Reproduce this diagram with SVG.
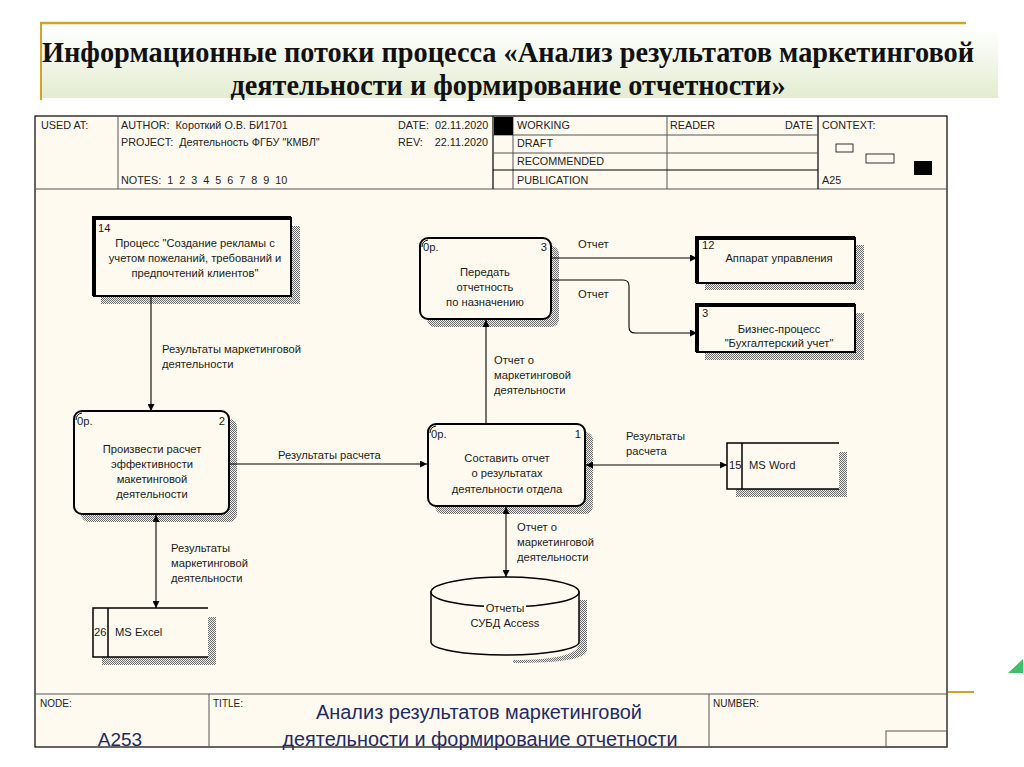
<svg xmlns="http://www.w3.org/2000/svg" width="1024" height="767" viewBox="0 0 1024 767">
<defs>
<linearGradient id="tg" x1="0" y1="0" x2="0" y2="1">
<stop offset="0" stop-color="#ffffff"/>
<stop offset="1" stop-color="#e3ecd0"/>
</linearGradient>
<pattern id="hatch" width="2" height="2" patternUnits="userSpaceOnUse">
<rect width="2" height="2" fill="#f4f1ea"/>
<rect width="1" height="1" fill="#6a6a6a"/>
<rect x="1" y="1" width="1" height="1" fill="#6a6a6a"/>
</pattern>
<marker id="ah" viewBox="0 0 10 10" refX="10" refY="5" markerWidth="9" markerHeight="7" markerUnits="userSpaceOnUse" orient="auto-start-reverse">
<path d="M0,0 L10,5 L0,10 z" fill="#000"/>
</marker>
<style>
.t{font-family:"Liberation Sans",Arial,sans-serif;font-size:11.2px;fill:#1a1a1a}
.h{font-family:"Liberation Sans",Arial,sans-serif;font-size:10.8px;fill:#222;white-space:pre}
.c{text-anchor:middle}
.ln{fill:none;stroke:#555;stroke-width:1}
.act{fill:#fefaf0;stroke:#000;stroke-width:2}
.ext{fill:#fefaf0;stroke:#000;stroke-width:2}
.thk{stroke:#000;stroke-width:4;fill:none}
.sh{fill:url(#hatch)}
.cn{fill:none;stroke:#000;stroke-width:1.1}
.ds{fill:#fefaf0;stroke:none}
.dl{stroke:#000;stroke-width:1.5;fill:none}
.ft{font-family:"Liberation Sans",Arial,sans-serif;fill:#1e2a66}
</style>
</defs>
<rect width="1024" height="767" fill="#ffffff"/>
<g id="slide-title">
<rect x="41" y="28" width="957" height="70" fill="url(#tg)"/>
<line x1="40" y1="23" x2="966" y2="23" stroke="#d4a22a" stroke-width="2.5"/>
<line x1="41" y1="22" x2="41" y2="100" stroke="#d4a22a" stroke-width="2"/>
<text x="508" y="62" text-anchor="middle" font-family="Liberation Serif, serif" font-weight="bold" font-size="29" textLength="932" lengthAdjust="spacingAndGlyphs" fill="#111">Информационные потоки процесса «Анализ результатов маркетинговой</text>
<text x="508" y="95" text-anchor="middle" font-family="Liberation Serif, serif" font-weight="bold" font-size="29" textLength="555" lengthAdjust="spacingAndGlyphs" fill="#111">деятельности и формирование отчетности»</text>
</g>
<g id="frame">
<rect x="35" y="116" width="912" height="631" fill="#fefaf0" stroke="#000" stroke-width="1.2"/>
<line x1="35" y1="189" x2="947" y2="189" stroke="#555"/>
<line x1="118" y1="116" x2="118" y2="189" class="ln"/>
<line x1="493" y1="116" x2="493" y2="189" stroke="#000" stroke-width="1.2"/>
<line x1="513" y1="116" x2="513" y2="189" class="ln"/>
<line x1="667" y1="116" x2="667" y2="189" class="ln"/>
<line x1="818" y1="116" x2="818" y2="189" stroke="#000" stroke-width="1.2"/>
<line x1="493" y1="135" x2="818" y2="135" class="ln"/>
<line x1="493" y1="153" x2="818" y2="153" class="ln"/>
<line x1="493" y1="170" x2="818" y2="170" stroke="#000" stroke-width="1"/>
<rect x="494" y="117" width="19" height="18" fill="#000"/>
<text class="h" x="41" y="129">USED AT:</text>
<text class="h" x="121" y="129">AUTHOR:  Короткий О.В. БИ1701</text>
<text class="h" x="121" y="146">PROJECT:  Деятельность ФГБУ "КМВЛ"</text>
<text class="h" x="121" y="184">NOTES:  1  2  3  4  5  6  7  8  9  10</text>
<text class="h" x="398" y="129">DATE:  02.11.2020</text>
<text class="h" x="398" y="146">REV:    22.11.2020</text>
<text class="h" x="517" y="129">WORKING</text>
<text class="h" x="517" y="147">DRAFT</text>
<text class="h" x="517" y="165">RECOMMENDED</text>
<text class="h" x="517" y="184">PUBLICATION</text>
<text class="h" x="670" y="129">READER</text>
<text class="h" x="813" y="129" text-anchor="end">DATE</text>
<text class="h" x="822" y="129">CONTEXT:</text>
<text class="h" x="822" y="184">A25</text>
<rect x="836" y="144" width="17" height="8" fill="#fefaf0" stroke="#000" stroke-width="0.8"/>
<rect x="866" y="154" width="28" height="9" fill="#fefaf0" stroke="#000" stroke-width="0.8"/>
<rect x="914" y="161" width="18" height="14" fill="#000"/>
<line x1="35" y1="694" x2="947" y2="694" stroke="#555"/>
<line x1="209" y1="694" x2="209" y2="747" class="ln"/>
<line x1="709" y1="694" x2="709" y2="747" class="ln"/>
<rect x="886" y="731" width="61" height="16" fill="none" stroke="#555"/>
<text x="40" y="707" font-family="Liberation Sans, Arial, sans-serif" font-size="10" fill="#222">NODE:</text>
<text x="213" y="707" font-family="Liberation Sans, Arial, sans-serif" font-size="10" fill="#222">TITLE:</text>
<text x="713" y="707" font-family="Liberation Sans, Arial, sans-serif" font-size="10" fill="#222">NUMBER:</text>
<text class="ft" x="120" y="746" text-anchor="middle" font-size="19">A253</text>
<text class="ft" x="479" y="719" text-anchor="middle" font-size="19.5" textLength="326" lengthAdjust="spacingAndGlyphs">Анализ результатов маркетинговой</text>
<text class="ft" x="480" y="746" text-anchor="middle" font-size="19.5" textLength="395" lengthAdjust="spacingAndGlyphs">деятельности и формирование отчетности</text>
</g>
<g id="deco">
<line x1="948" y1="692" x2="974" y2="692" stroke="#d4a22a" stroke-width="2"/>
<polygon points="1008,673 1023,673 1023,659" fill="#3fbf6a"/>
</g>
<g id="node-14">
<rect class="sh" x="101" y="226" width="199" height="78"/>
<rect class="ext" x="94" y="218" width="197" height="78"/>
<path class="thk" d="M94,296 V218 H291"/>
<text class="t" x="98" y="232">14</text>
<text class="t c" x="195" y="247">Процесс "Создание рекламы с</text>
<text class="t c" x="195" y="262">учетом пожеланий, требований и</text>
<text class="t c" x="195" y="277">предпочтений клиентов"</text>
</g>
<g id="node-2">
<rect class="sh" x="81" y="419" width="156" height="103" rx="8"/>
<rect class="act" x="74" y="411" width="155" height="103" rx="8"/>
<path d="M76,420 Q76,414 82,413" stroke="#000" stroke-width="1" fill="none"/>
<text class="t" x="77" y="425">0р.</text>
<text class="t" x="225" y="425" text-anchor="end">2</text>
<text class="t c" x="152" y="453">Произвести расчет</text>
<text class="t c" x="152" y="468">эффективности</text>
<text class="t c" x="152" y="483">макетинговой</text>
<text class="t c" x="152" y="498">деятельности</text>
</g>
<g id="node-1">
<rect class="sh" x="435" y="432" width="158" height="82" rx="8"/>
<rect class="act" x="428" y="424" width="157" height="82" rx="8"/>
<path d="M430,433 Q430,427 436,426" stroke="#000" stroke-width="1" fill="none"/>
<text class="t" x="431" y="438">0р.</text>
<text class="t" x="581" y="438" text-anchor="end">1</text>
<text class="t c" x="507" y="462">Составить отчет</text>
<text class="t c" x="507" y="477">о результатах</text>
<text class="t c" x="507" y="493">деятельности отдела</text>
</g>
<g id="node-3">
<rect class="sh" x="427" y="246" width="132" height="81" rx="8"/>
<rect class="act" x="420" y="238" width="131" height="81" rx="8"/>
<path d="M422,247 Q422,241 428,240" stroke="#000" stroke-width="1" fill="none"/>
<text class="t" x="423" y="251">0р.</text>
<text class="t" x="547" y="251" text-anchor="end">3</text>
<text class="t c" x="485" y="276">Передать</text>
<text class="t c" x="485" y="291">отчетность</text>
<text class="t c" x="485" y="306">по назначению</text>
</g>
<g id="node-12">
<rect class="sh" x="705" y="245" width="159" height="45"/>
<rect class="ext" x="697" y="238" width="158" height="45"/>
<path class="thk" d="M697,283 V238 H855"/>
<text class="t" x="702" y="249">12</text>
<text class="t c" x="779" y="262">Аппарат управления</text>
</g>
<g id="node-ext-3">
<rect class="sh" x="705" y="313" width="159" height="47"/>
<rect class="ext" x="697" y="305" width="158" height="47"/>
<path class="thk" d="M697,352 V305 H855"/>
<text class="t" x="702" y="317">3</text>
<text class="t c" x="779" y="333">Бизнес-процесс</text>
<text class="t c" x="779" y="347">"Бухгалтерский учет"</text>
</g>
<g id="node-15">
<rect class="sh" x="839" y="452" width="8" height="45"/>
<rect class="sh" x="736" y="489" width="111" height="8"/>
<rect class="ds" x="727" y="443" width="112" height="46"/>
<path class="dl" d="M839,443 H727 V489 H839 M742,443 V489"/>
<text class="t" x="729" y="469">15</text>
<text class="t" x="749" y="469">MS Word</text>
</g>
<g id="node-26">
<rect class="sh" x="208" y="617" width="8" height="48"/>
<rect class="sh" x="102" y="657" width="114" height="8"/>
<rect class="ds" x="93" y="608" width="115" height="49"/>
<path class="dl" d="M208,608 H93 V657 H208 M108,608 V657"/>
<text class="t" x="94" y="636">26</text>
<text class="t" x="115" y="636">MS Excel</text>
</g>
<g id="node-db">
<path class="sh" d="M579,600 H587 V650 Q587,663 513,663 H513 L513,660 Q579,660 579,643 z"/>
<path d="M431,592 V642 A74,13 0 0 0 579,642 V592 z" fill="#fefaf0" stroke="#000" stroke-width="1.5"/>
<ellipse cx="505" cy="592" rx="74" ry="15" fill="#fefaf0" stroke="#000" stroke-width="1.5"/>
<rect x="484" y="602" width="42" height="12" fill="#fefaf0"/>
<text class="t c" x="505" y="612">Отчеты</text>
<text class="t c" x="505" y="627">СУБД Access</text>
</g>
<g id="connectors">
<path class="cn" d="M151,297 V411" marker-end="url(#ah)"/>
<path class="cn" d="M230,464 H427" marker-end="url(#ah)"/>
<path class="cn" d="M486,424 V320" marker-end="url(#ah)"/>
<path class="cn" d="M552,258 H697" marker-end="url(#ah)"/>
<path class="cn" d="M552,280 H623 Q629,280 629,286 V327 Q629,333 635,333 H697" marker-end="url(#ah)"/>
<path class="cn" d="M586,465 H727" marker-start="url(#ah)" marker-end="url(#ah)"/>
<path class="cn" d="M156,515 V608" marker-start="url(#ah)" marker-end="url(#ah)"/>
<path class="cn" d="M506,507 V577" marker-start="url(#ah)" marker-end="url(#ah)"/>
<text class="t" x="162" y="353">Результаты маркетинговой</text>
<text class="t" x="162" y="368">деятельности</text>
<text class="t" x="278" y="459">Результаты расчета</text>
<text class="t" x="494" y="364">Отчет о</text>
<text class="t" x="494" y="379">маркетинговой</text>
<text class="t" x="494" y="394">деятельности</text>
<text class="t" x="578" y="248">Отчет</text>
<text class="t" x="578" y="298">Отчет</text>
<text class="t" x="626" y="440">Результаты</text>
<text class="t" x="626" y="455">расчета</text>
<text class="t" x="171" y="552">Результаты</text>
<text class="t" x="171" y="567">маркетинговой</text>
<text class="t" x="171" y="582">деятельности</text>
<text class="t" x="517" y="531">Отчет о</text>
<text class="t" x="517" y="546">маркетинговой</text>
<text class="t" x="517" y="561">деятельности</text>
</g>
</svg>
